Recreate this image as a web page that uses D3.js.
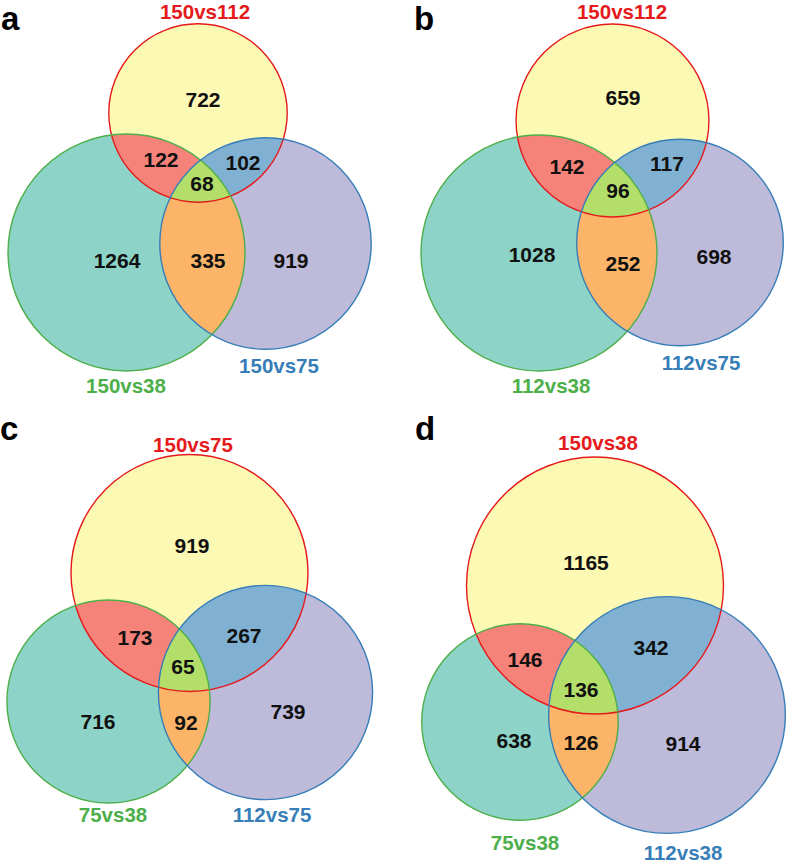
<!DOCTYPE html>
<html>
<head>
<meta charset="utf-8">
<script src="https://cdn.jsdelivr.net/npm/d3@7"></script>
<style>
html,body{margin:0;padding:0;background:#fff;}
svg{display:block;}
text{font-family:"Liberation Sans",Arial,sans-serif;font-weight:bold;}
</style>
</head>
<body>
<svg id="chart" width="787" height="864"></svg>
<script>
// ---------- DATA ----------
const panelIds = ["a", "b", "c", "d"];
// set names: [top(red), bottom-left(green), bottom-right(blue)]
const setNamesA = ["150vs112", "150vs38", "150vs75"];
const setNamesB = ["150vs112", "112vs38", "112vs75"];
const setNamesC = ["150vs75", "75vs38", "112vs75"];
const setNamesD = ["150vs38", "75vs38", "112vs38"];
// region counts: [onlyR, R∩G, R∩B, R∩G∩B, onlyG, G∩B, onlyB]
const regionsA = [722, 122, 102, 68, 1264, 335, 919];
const regionsB = [659, 142, 117, 96, 1028, 252, 698];
const regionsC = [919, 173, 267, 65, 716, 92, 739];
const regionsD = [1165, 146, 342, 136, 638, 126, 914];

const setNames = [setNamesA, setNamesB, setNamesC, setNamesD];
const regions = [regionsA, regionsB, regionsC, regionsD];

// ---------- LAYOUT (positions / styles) ----------
const panelOrigin = [[0, 0], [393, 0], [0, 432], [393, 432]];
const maxRadius = [118.5, 118, 118.5, 128.5];
// circle centres (panel-local) [R, G, B]
const centres = [
  [[198, 113], [126.5, 252.5], [265.5, 243.5]],
  [[219.5, 120.5], [146, 253], [287, 242.5]],
  [[189.5, 141], [108.5, 269.5], [265.5, 260.5]],
  [[202, 153.5], [127, 290], [274, 283]]
];
// region label centres, same order as region arrays
const regionPos = [
  [[203, 99], [161, 159], [243, 162], [202, 183], [117, 260], [208, 260], [291, 260]],
  [[230, 97], [174, 166], [274, 163], [225, 190], [139, 254], [230, 263], [321, 256]],
  [[192, 113], [135, 205], [244, 203], [183, 234], [98, 289], [186, 290], [288, 279]],
  [[193, 130], [132, 227], [258, 215], [188, 257], [121, 308], [188, 310], [290, 311]]
];
// set name label positions (centre x, baseline)
const setLabelPos = [
  [[205, 18.8], [126, 393], [279, 373]],
  [[229, 18.8], [158, 393], [308, 370]],
  [[193, 20], [113, 390], [272, 390]],
  [[205, 18], [132, 418], [290, 427.5]]
];
const letterPos = [[1, 30], [21, 30], [0, 8], [22, 8]];

const fillSet = ["#FCF9B5", "#8DD3C7", "#BEBADA"];
const fillPair = {"01": "#F6837A", "02": "#80B1D3", "12": "#FBB468"};
const fillTriple = "#B3DE69";
const strokeCol = ["#E41A1C", "#4DAF4A", "#377EB8"];

const svg = d3.select("#chart");
const defs = svg.append("defs");

panelIds.forEach((pid, p) => {
  const r = regions[p];
  // set totals
  const totals = [
    r[0] + r[1] + r[2] + r[3],
    r[4] + r[1] + r[3] + r[5],
    r[6] + r[2] + r[3] + r[5]
  ];
  const rScale = d3.scaleSqrt().domain([0, d3.max(totals)]).range([0, maxRadius[p]]);
  const circles = totals.map((t, i) => ({i, cx: centres[p][i][0], cy: centres[p][i][1], r: rScale(t)}));

  const g = svg.append("g").attr("transform", `translate(${panelOrigin[p][0]},${panelOrigin[p][1]})`);

  // clip paths (in user space of the clipped element = panel-local)
  circles.forEach(c => {
    defs.append("clipPath").attr("id", `clip-${pid}-${c.i}`)
      .append("circle")
      .attr("cx", c.cx).attr("cy", c.cy).attr("r", c.r);
  });

  // base fills
  g.selectAll("circle.base").data(circles).join("circle")
    .attr("class", "base")
    .attr("cx", d => d.cx).attr("cy", d => d.cy).attr("r", d => d.r)
    .attr("fill", d => fillSet[d.i]);

  // pair fills
  [[0, 1], [0, 2], [1, 2]].forEach(([a, b]) => {
    g.append("g").attr("clip-path", `url(#clip-${pid}-${a})`)
      .append("circle")
      .attr("cx", circles[b].cx).attr("cy", circles[b].cy).attr("r", circles[b].r)
      .attr("fill", fillPair[`${a}${b}`]);
  });

  // triple fill
  g.append("g").attr("clip-path", `url(#clip-${pid}-0)`)
    .append("g").attr("clip-path", `url(#clip-${pid}-1)`)
    .append("circle")
    .attr("cx", circles[2].cx).attr("cy", circles[2].cy).attr("r", circles[2].r)
    .attr("fill", fillTriple);

  // strokes
  g.selectAll("circle.edge").data(circles).join("circle")
    .attr("class", "edge")
    .attr("cx", d => d.cx).attr("cy", d => d.cy).attr("r", d => d.r)
    .attr("fill", "none")
    .attr("stroke", d => strokeCol[d.i])
    .attr("stroke-width", 1.4);

  // region numbers
  g.selectAll("text.num").data(r).join("text")
    .attr("class", "num")
    .attr("x", (d, i) => regionPos[p][i][0])
    .attr("y", (d, i) => regionPos[p][i][1])
    .attr("dy", "0.36em")
    .attr("text-anchor", "middle")
    .attr("font-size", 21)
    .attr("fill", "#111")
    .text(d => d);

  // set names
  g.selectAll("text.setname").data(setNames[p]).join("text")
    .attr("class", "setname")
    .attr("x", (d, i) => setLabelPos[p][i][0])
    .attr("y", (d, i) => setLabelPos[p][i][1])
    .attr("text-anchor", "middle")
    .attr("font-size", 20.5)
    .attr("fill", (d, i) => strokeCol[i])
    .text(d => d);

  // panel letter
  g.append("text")
    .attr("x", letterPos[p][0]).attr("y", letterPos[p][1])
    .attr("font-size", 33)
    .attr("fill", "#000")
    .text(pid);
});
</script>
</body>
</html>
